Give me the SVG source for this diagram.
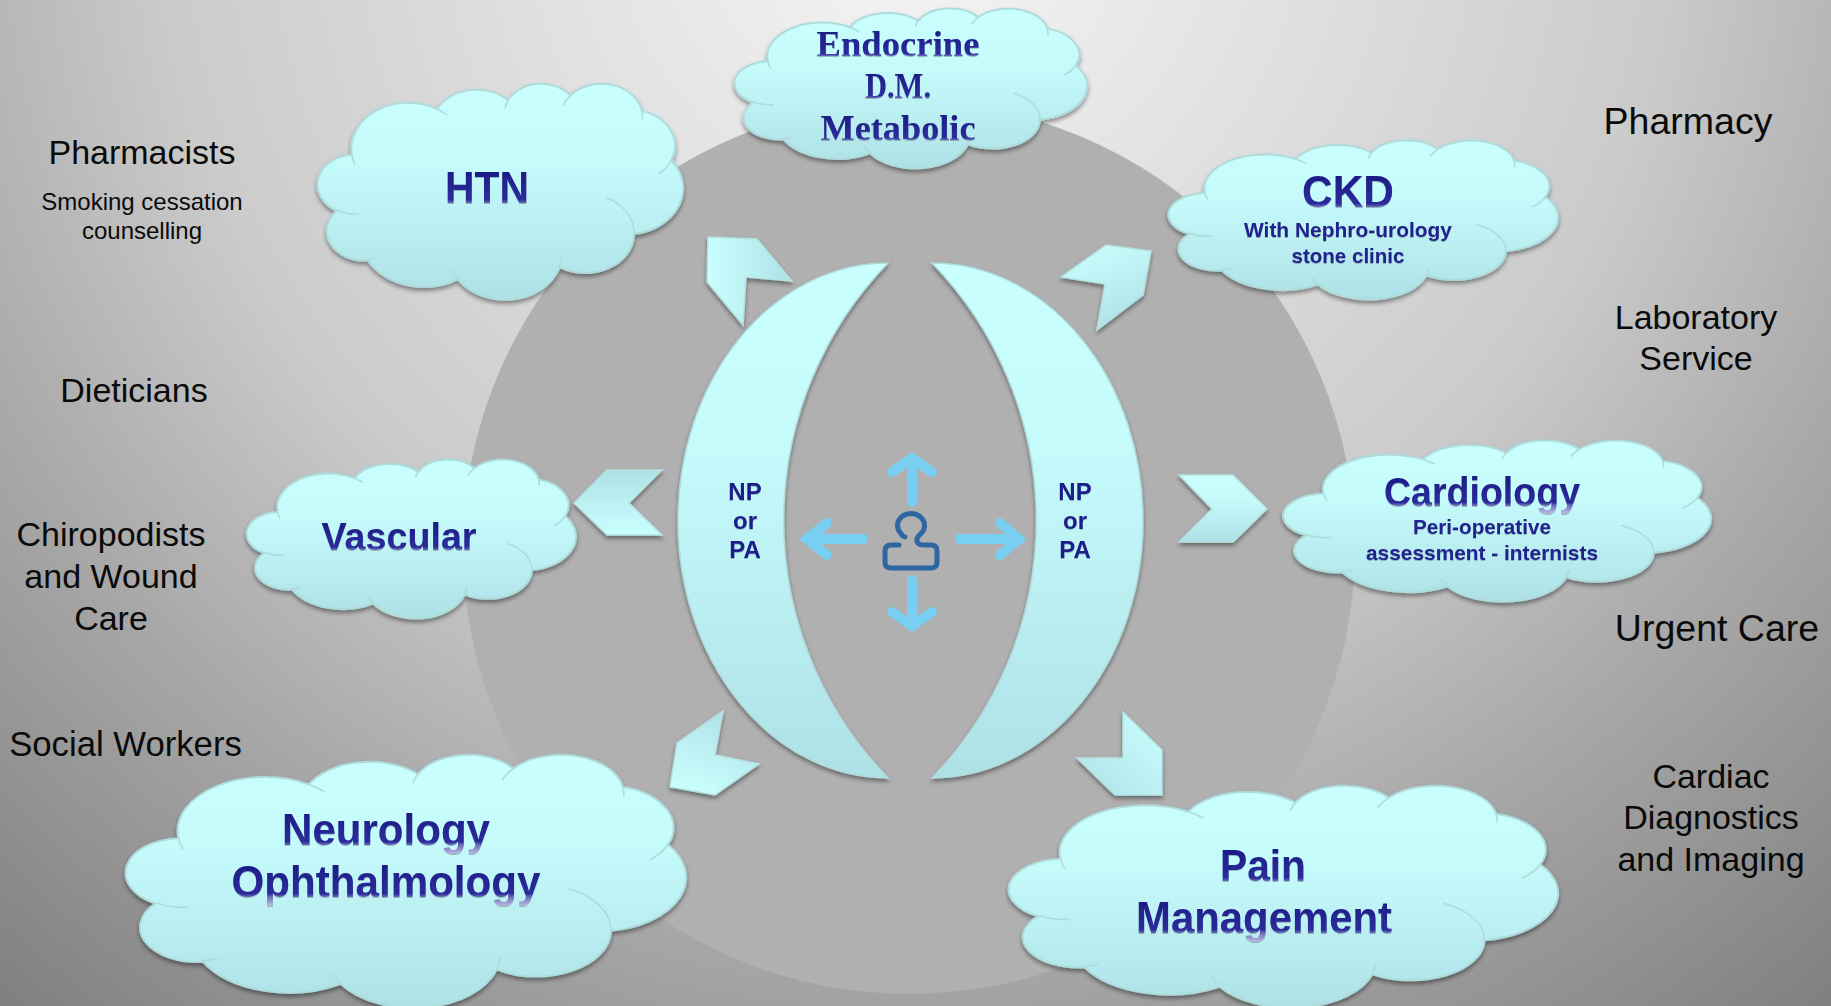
<svg xmlns="http://www.w3.org/2000/svg" xmlns:xlink="http://www.w3.org/1999/xlink" width="1831" height="1006" viewBox="0 0 1831 1006">
<style>
.outer{fill:url(#aqua);stroke:#aedcdc;stroke-width:2;vector-effect:non-scaling-stroke}
.inner{fill:none;stroke:#aedcdc;stroke-width:1.6;vector-effect:non-scaling-stroke}
.lbl{font-family:"Liberation Sans",Arial,sans-serif;font-size:34px;fill:#0a0a0a;text-anchor:middle}
.lg{font-size:37.500px}
.sm{font-size:24px}
.b{font-family:"Liberation Sans",Arial,sans-serif;font-weight:bold;text-anchor:middle;fill:url(#ink);filter:url(#ts)}
.s{font-family:"Liberation Serif",Cambria,serif;font-weight:bold;text-anchor:middle;fill:url(#ink);font-size:36px;filter:url(#ts)}
.big{font-size:45px}
.sub{font-size:21px;fill:#24248f}
.np{font-size:24px;fill:#1e1e8a}
.chev{stroke:#b4e2e2;stroke-width:1.5}
.la{fill:none;stroke:#78cff2;stroke-width:10;stroke-linecap:round;stroke-linejoin:miter}
</style>
<defs>
<radialGradient id="bg" gradientUnits="userSpaceOnUse" cx="915" cy="-100" r="1500">
<stop offset="0" stop-color="#f7f7f7"/><stop offset=".5" stop-color="#cbcbcb"/><stop offset=".7" stop-color="#a8a8a8"/><stop offset=".96" stop-color="#7f7f7f"/>
</radialGradient>
<linearGradient id="aqua" x1="0" y1="0" x2="0" y2="1"><stop offset="0" stop-color="#caffff"/><stop offset=".35" stop-color="#c6fbfc"/><stop offset="1" stop-color="#aee1e6"/></linearGradient>
<linearGradient id="ch180" x1="0" y1="1" x2="0" y2="0"><stop offset="0" stop-color="#caffff"/><stop offset="1" stop-color="#aee1e6"/></linearGradient>
<linearGradient id="chTL" x1="0" y1="0" x2="1" y2="0"><stop offset="0" stop-color="#caffff"/><stop offset="1" stop-color="#aee1e6"/></linearGradient>
<linearGradient id="chTR" x1="0.2" y1="0" x2="0.6" y2="1"><stop offset="0" stop-color="#caffff"/><stop offset="1" stop-color="#aee1e6"/></linearGradient>
<linearGradient id="chBL" x1="0.3" y1="1" x2="0.7" y2="0"><stop offset="0" stop-color="#caffff"/><stop offset="1" stop-color="#aee1e6"/></linearGradient>
<linearGradient id="chBR" x1="1" y1="0" x2="0" y2="1"><stop offset="0" stop-color="#caffff"/><stop offset="1" stop-color="#aee1e6"/></linearGradient>
<linearGradient id="ink" x1="0" y1="0" x2="0" y2="1"><stop offset="0" stop-color="#181880"/><stop offset=".74" stop-color="#2c2c9c"/><stop offset=".8" stop-color="#6a6ab8"/><stop offset=".95" stop-color="#b0b0dc"/></linearGradient>
<filter id="ds" x="-10%" y="-10%" width="120%" height="125%"><feDropShadow dx="0" dy="3" stdDeviation="2" flood-color="#000" flood-opacity=".4"/></filter>
<filter id="ts" x="-5%" y="-5%" width="110%" height="120%"><feDropShadow dx="0" dy="1" stdDeviation=".6" flood-color="#000" flood-opacity=".25"/></filter>
<g id="cloud">
<path class="outer" d="M3900 14370A6753 9190 0 0 1 14004 5199A5333 7267 0 0 1 22455 3429A4365 5945 0 0 1 29831 2479A4857 6595 0 0 1 38315 5577A5333 7273 0 0 1 41817 15460A6775 9220 0 0 1 37402 30204A5785 7867 0 0 1 28553 36814A6752 9215 0 0 1 16478 39265A7720 10543 0 0 1 5800 35472A4360 5918 0 0 1 2107 25550A4345 5945 0 0 1 3900 14370Z"/>
<path class="inner" d="M4693 26177A4345 5945 0 0 1 2160 25381M6928 34899A4360 5918 0 0 1 5818 35282M16478 39090A6752 9215 0 0 1 15811 37345M28827 34751A6752 9215 0 0 1 28560 36661M34129 22954A5785 7867 0 0 1 37402 30204M41817 15460A5333 7273 0 0 1 40343 18166M38315 5577A4857 6595 0 0 1 38373 7320M29831 2479A4857 6595 0 0 0 28971 4489M22455 3429A4365 5945 0 0 0 22061 5051M14004 5199A6753 9190 0 0 1 15197 6409M3900 14370A6753 9190 0 0 0 4246 16273"/>
</g>
</defs>
<rect id="background" width="1831" height="1006" fill="url(#bg)"/>
<circle id="disc" cx="909" cy="548" r="446" fill="#b0b0b0"/>
<g id="connectors">
<g filter="url(#ds)">
<polygon class="chev" fill="url(#ch180)" points="574,503 607,470 662,470 629,503 662,535 607,535"/>
<polygon class="chev" fill="url(#aqua)" points="1267,509 1233,475 1179,475 1212,509 1179,542 1233,542"/>
<polygon class="chev" fill="url(#chTL)" points="708,237 757,239 792,281 746,277 743,325 707,282"/>
<polygon class="chev" fill="url(#chTR)" points="1151,251 1143,295 1097,330 1105,284 1061,277 1106,245"/>
<polygon class="chev" fill="url(#chBL)" points="670,787 677,743 723,711 715,755 759,764 715,795"/>
<polygon class="chev" fill="url(#chBR)" points="1162,795 1162,750 1123,712 1123,758 1077,758 1115,795"/>
</g>
<path class="la" d="M912 502V460M892 472L912 458L932 472"/>
<path class="la" d="M912 580V625M892 612L912 626L932 612"/>
<path class="la" d="M863 539H808M827 523L807 539L827 555"/>
<path class="la" d="M960 539H1017M1000 523L1019 539L1000 555"/>
</g>
<g id="crescent-left" filter="url(#ds)">
<path fill="url(#aqua)" stroke="#aedcdc" stroke-width="1.5" d="M888 263A210 257.500 0 0 0 888 778A370 370 0 0 1 888 263Z"/>
<text class="b np" x="745" y="500">NP</text><text class="b np" x="745" y="529">or</text><text class="b np" x="745" y="558">PA</text>
</g>
<g id="crescent-right" filter="url(#ds)">
<path fill="url(#aqua)" stroke="#aedcdc" stroke-width="1.5" d="M932 263A211 257.500 0 0 1 932 778A370 370 0 0 0 932 263Z"/>
<text class="b np" x="1075" y="500">NP</text><text class="b np" x="1075" y="529">or</text><text class="b np" x="1075" y="558">PA</text>
</g>
<g id="person">
<path fill="none" stroke="#2e66a4" stroke-width="5" stroke-linecap="round" stroke-linejoin="round" d="M899 545H891Q885 545 885 551V562Q885 568 891 568H931Q937 568 937 562V551Q937 545 931 545H924Q916 545 917 539Q918 536 921 533.500A13.500 12 0 1 0 901 533.500Q902 536 905 537"/>
</g>
<g id="node-htn">
<g filter="url(#ds)"><use xlink:href="#cloud" href="#cloud" transform="translate(319,83) scale(.008426,.005)"/></g>
<text class="b big" x="487" y="203" textLength="84" lengthAdjust="spacingAndGlyphs">HTN</text>
</g>
<g id="node-endocrine">
<g filter="url(#ds)"><use xlink:href="#cloud" href="#cloud" transform="translate(736,8) scale(.008125,.0037)"/></g>
<text class="s" x="898" y="56" textLength="163" lengthAdjust="spacingAndGlyphs">Endocrine</text>
<text class="s" x="898" y="98" textLength="66" lengthAdjust="spacingAndGlyphs">D.M.</text>
<text class="s" x="898" y="140" textLength="155" lengthAdjust="spacingAndGlyphs">Metabolic</text>
</g>
<g id="node-ckd">
<g filter="url(#ds)"><use xlink:href="#cloud" href="#cloud" transform="translate(1170,140) scale(.00898,.00368)"/></g>
<text class="b big" x="1348" y="207" textLength="92" lengthAdjust="spacingAndGlyphs">CKD</text>
<text class="b sub" x="1348" y="237" textLength="208" lengthAdjust="spacingAndGlyphs">With Nephro-urology</text>
<text class="b sub" x="1348" y="263" textLength="113" lengthAdjust="spacingAndGlyphs">stone clinic</text>
</g>
<g id="node-cardiology">
<g filter="url(#ds)"><use xlink:href="#cloud" href="#cloud" transform="translate(1285,440) scale(.00986,.00373)"/></g>
<text class="b" font-size="40" x="1482" y="506" textLength="196" lengthAdjust="spacingAndGlyphs">Cardiology</text>
<text class="b sub" x="1482" y="534" textLength="138" lengthAdjust="spacingAndGlyphs">Peri-operative</text>
<text class="b sub" x="1482" y="560" textLength="232" lengthAdjust="spacingAndGlyphs">assessment - internists</text>
</g>
<g id="node-vascular">
<g filter="url(#ds)"><use xlink:href="#cloud" href="#cloud" transform="translate(248,459) scale(.00759,.00368)"/></g>
<text class="b" font-size="38" x="399" y="550" textLength="155" lengthAdjust="spacingAndGlyphs">Vascular</text>
</g>
<g id="node-neurology">
<g filter="url(#ds)"><use xlink:href="#cloud" href="#cloud" transform="translate(128,754) scale(.012915,.005856)"/></g>
<text class="b big" x="386" y="845" textLength="208" lengthAdjust="spacingAndGlyphs">Neurology</text>
<text class="b big" x="386" y="897" textLength="309" lengthAdjust="spacingAndGlyphs">Ophthalmology</text>
</g>
<g id="node-pain">
<g filter="url(#ds)"><use xlink:href="#cloud" href="#cloud" transform="translate(1011,785) scale(.01266,.005139)"/></g>
<text class="b big" x="1263" y="881" textLength="86" lengthAdjust="spacingAndGlyphs">Pain</text>
<text class="b big" x="1264" y="933" textLength="256" lengthAdjust="spacingAndGlyphs">Management</text>
</g>
<g id="labels">
<text class="lbl" x="142" y="164">Pharmacists</text>
<text class="lbl sm" x="142" y="210">Smoking cessation</text>
<text class="lbl sm" x="142" y="239">counselling</text>
<text class="lbl" x="134" y="402">Dieticians</text>
<text class="lbl" x="111" y="546">Chiropodists</text>
<text class="lbl" x="111" y="588">and Wound</text>
<text class="lbl" x="111" y="630">Care</text>
<text class="lbl" x="125.500" y="756" style="font-size:34.700px">Social Workers</text>
<text class="lbl lg" x="1688" y="134">Pharmacy</text>
<text class="lbl" x="1696" y="329">Laboratory</text>
<text class="lbl" x="1696" y="370">Service</text>
<text class="lbl lg" x="1717" y="641">Urgent Care</text>
<text class="lbl" x="1711" y="788">Cardiac</text>
<text class="lbl" x="1711" y="829">Diagnostics</text>
<text class="lbl" x="1711" y="871">and Imaging</text>
</g>
</svg>
